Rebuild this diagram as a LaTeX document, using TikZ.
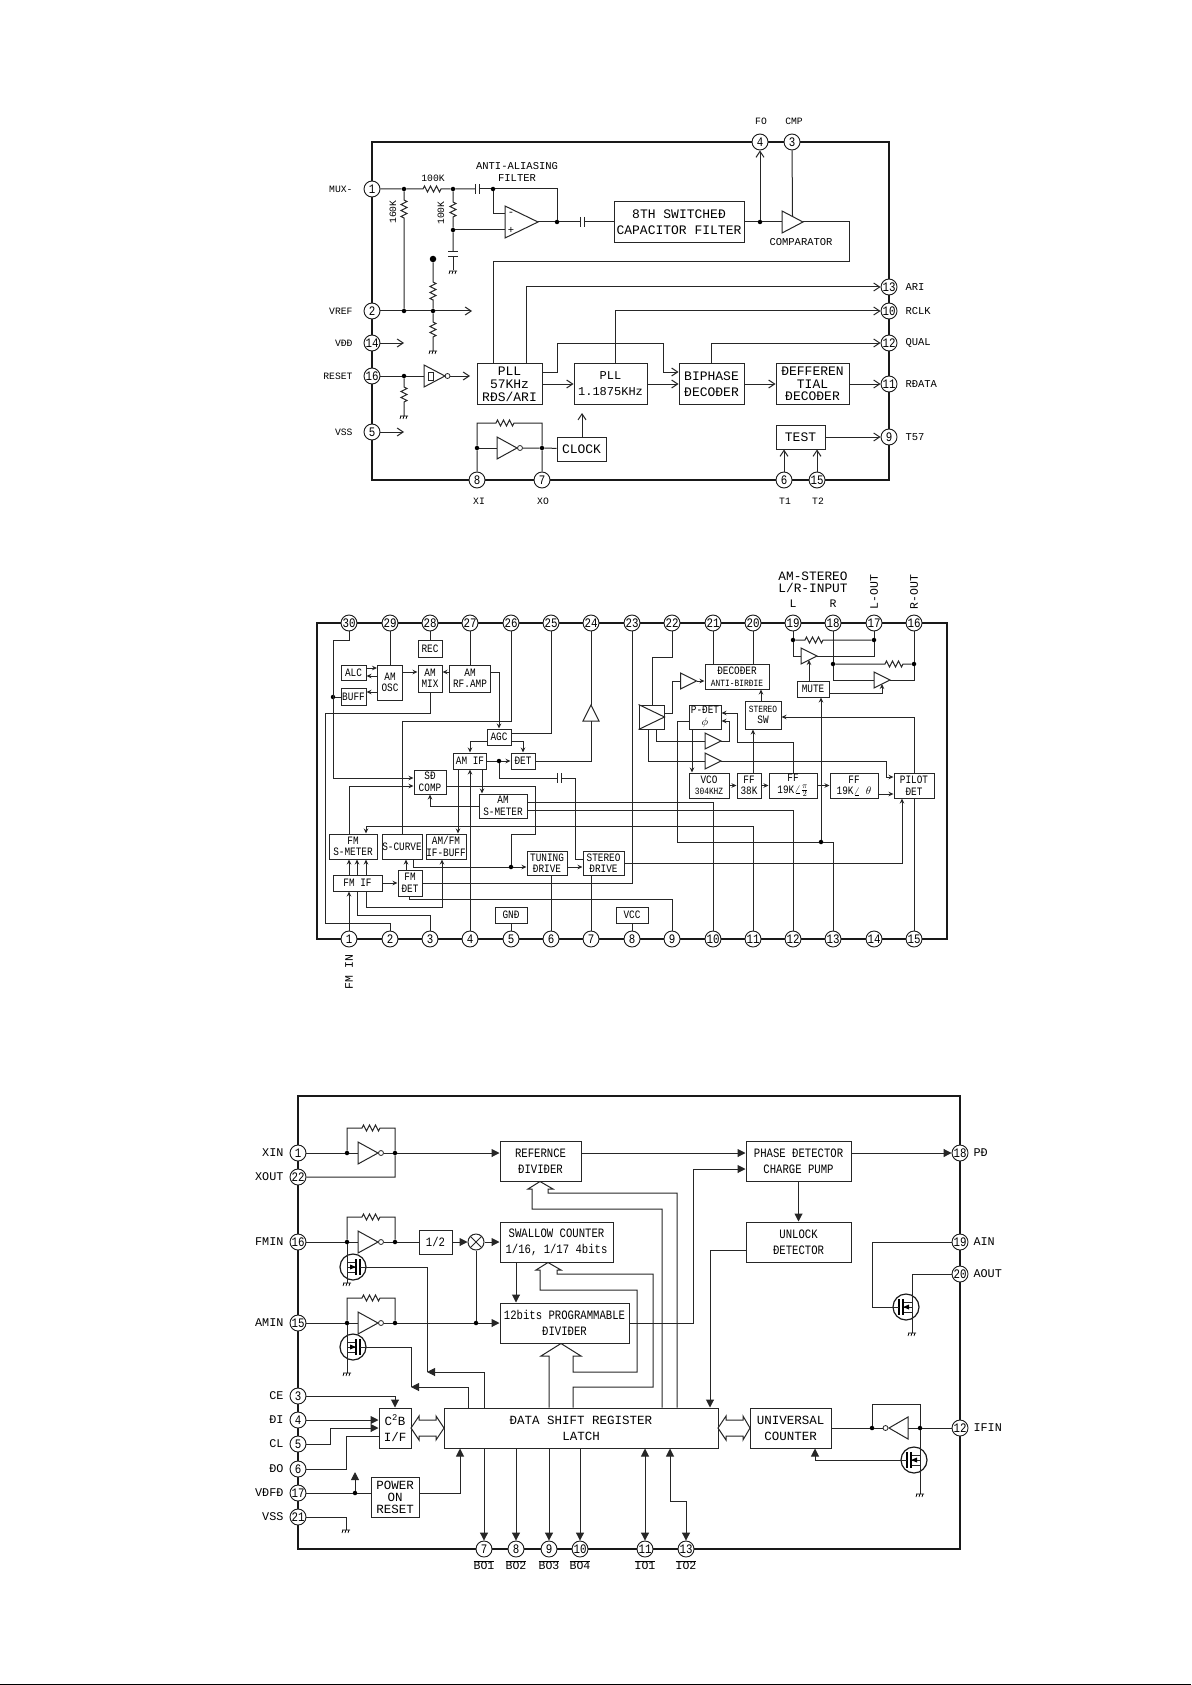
\documentclass[tikz,border=0pt]{standalone}
\usepackage{fontspec}
\usetikzlibrary{arrows.meta,decorations.pathmorphing}
\newfontfamily\cadfont[FakeStretch=0.83]{Liberation Mono}
\newfontfamily\cadwide{Liberation Mono}
\tikzset{
  frame/.style={line width=1.2pt,black!90},
  wire/.style={line width=1pt,black!85},
  zz/.style={decoration={zigzag,amplitude=3pt,segment length=6pt}},
  box/.style 2 args={draw=black!85,line width=1pt,fill=white,minimum width=#1pt,minimum height=#2pt,inner sep=0pt,align=center},
  pin/.style={draw=black!90,line width=0.9pt,circle,fill=white,minimum size=16pt,inner sep=0pt,font=\cadfont\fontsize{13}{13}\selectfont},
  dot/.style={fill=black,circle,minimum size=4.5pt,inner sep=0pt},
  bubble/.style={draw=black!85,line width=0.8pt,circle,fill=white,minimum size=5pt,inner sep=0pt},
  txtS/.style={font=\cadwide\fontsize{10.5}{12}\selectfont},
  txtP/.style={font=\cadwide\fontsize{9.7}{12}\selectfont},
  txtB/.style={font=\cadfont\fontsize{11.3}{11.5}\selectfont},
  txtR/.style={font=\cadwide\fontsize{11.5}{12}\selectfont},
  txtL/.style={font=\cadwide\fontsize{12.8}{12}\selectfont},
  txtC/.style={font=\cadfont\fontsize{12.8}{16}\selectfont},
  txtW/.style={font=\cadwide\fontsize{11.8}{16}\selectfont},
  gnd/.pic={\draw[line width=0.7pt] (-4,0) -- (4,0) (-4,3) -- (-3,0) (-1,3) -- (0,0) (2,3) -- (3,0);},
  tri/.pic={\draw[wire,fill=white] (-8,-8) -- (8,0) -- (-8,8) -- cycle;
    \coordinate (-in) at (-8,0); \coordinate (-out) at (8,0);
    \coordinate (-n) at (0,-4); \coordinate (-s) at (0,4);},
  mos/.pic={\draw[line width=1.2pt,black!90] (0,0) circle (13);
    \draw[wire] (-6,-5) -- (3,-5) (-6,5) -- (3,5) (-6,0) -- (3,0);
    \draw[line width=1.1pt] (3,-8) -- (3,8) (7,-8) -- (7,8);
    \fill (3,0) -- (-3,-2.5) -- (-3,2.5) -- cycle;
    \coordinate (-g) at (7,0);},
}
\begin{document}
\begin{tikzpicture}[x=1pt,y=-1pt,every node/.style={font=\cadwide\fontsize{13}{16}\selectfont}]
\useasboundingbox (0,0) rectangle (1191,1685);
\fill[black] (0,1683.6) rectangle (1191,1685);
%
% ---- RDS decoder
\begin{scope}[>={Straight Barb[length=6pt,width=8pt]}]
\draw[frame] (372,142) rectangle (889,480);
%
\node[pin] (a1) at (372,189) {1};
\node[pin] (a2) at (372,311) {2};
\node[pin] (a14) at (372,343) {14};
\node[pin] (a16) at (372,376) {16};
\node[pin] (a5) at (372,432) {5};
\node[pin] (a4) at (760,142) {4};
\node[pin] (a3) at (792,142) {3};
\node[pin] (a13) at (889,287) {13};
\node[pin] (a10) at (889,311) {10};
\node[pin] (a12) at (889,343) {12};
\node[pin] (a11) at (889,384) {11};
\node[pin] (a9) at (889,437) {9};
\node[pin] (a8) at (477,480) {8};
\node[pin] (a7) at (542,480) {7};
\node[pin] (a6) at (784,480) {6};
\node[pin] (a15) at (817,480) {15};
%
\node[txtP,anchor=east] (lmux) at (356,189) {MUX-};
\node[txtP,anchor=east] (lvref) at (356,311) {VREF};
\node[txtP,anchor=east] (lvdd) at (356,343) {VÐÐ};
\node[txtP,anchor=east] (lrst) at (356,376) {RESET};
\node[txtP,anchor=east] (lvss) at (356,432) {VSS};
\node[txtP] (lfo) at (761,121) {FO};
\node[txtP] (lcmp) at (794,121) {CMP};
\node[txtS,anchor=west] (lari) at (902,287) {ARI};
\node[txtS,anchor=west] (lrclk) at (902,311) {RCLK};
\node[txtS,anchor=west] (lqual) at (902,343) {QUAL};
\node[txtS,anchor=west] (lrdata) at (902,384) {RÐATA};
\node[txtS,anchor=west] (lt57) at (902,437) {T57};
\node[txtP] (lxi) at (479,501) {XI};
\node[txtP] (lxo) at (543,501) {XO};
\node[txtP] (lt1) at (785,501) {T1};
\node[txtP] (lt2) at (818,501) {T2};
\node[txtS,align=center] (lanti) at (517,172) {ANTI-ALIASING\\FILTER};
\node[txtS] (lcomp) at (801,242) {COMPARATOR};
\node[txtP] (lr1) at (433,178) {100K};
\node[txtP,rotate=90] (lr2) at (393,212) {160K};
\node[txtP,rotate=90] (lr3) at (441,213) {100K};
%
\node[box={130}{41}] (a8th) at (679,222) {8TH SWITCHEÐ\\CAPACITOR FILTER};
\node[box={65}{41},font=\cadwide\fontsize{13}{13}\selectfont] (apll57) at (509.5,384) {PLL\\57KHz\\RÐS/ARI};
\node[box={73}{41},font=\cadwide\fontsize{12}{16}\selectfont] (apll118) at (610.5,384) {PLL\\1.1875KHz};
\node[box={65}{41}] (abiph) at (711.5,384) {BIPHASE\\ÐECOÐER};
\node[box={73}{41},font=\cadwide\fontsize{13}{12.5}\selectfont] (adiff) at (812.5,384) {ÐEFFEREN\\TIAL\\ÐECOÐER};
\node[box={49}{24}] (aclk) at (581.5,449) {CLOCK};
\node[box={49}{24}] (atest) at (800.5,437) {TEST};
%
\node[dot] (aj1) at (404,189) {};
\node[dot] (aj2) at (453,189) {};
\node[dot] (aj3) at (493,189) {};
\node[dot] (aj4) at (557,222) {};
\node[dot] (aj5) at (453,230) {};
\node[dot] (aj6) at (760,222) {};
\node[dot] (aj7) at (404,311) {};
\node[dot] (aj8) at (433,311) {};
\node[dot,minimum size=6.5pt] (aj9) at (433,259) {};
\node[dot] (aj10) at (404,376) {};
\node[dot] (aj11) at (477,448) {};
\node[dot] (aj12) at (542,448) {};
\node[bubble] (abub1) at (447.5,376) {};
\node[bubble] (abub2) at (520,448) {};
\coordinate (avref) at (472,311);
\coordinate (avdd) at (404,343);
\coordinate (avss) at (404,432);
\coordinate (arst) at (470,376);
\coordinate (aclkup) at (582,413);
%
\pic[xscale=2.06,yscale=2] (aop) at (521.5,222) {tri};
\pic[xscale=1.31,yscale=1.375] (acmp) at (792.5,222) {tri};
\pic[xscale=1.31,yscale=1.375] (asch) at (434.5,376) {tri};
\pic[xscale=1.25,yscale=1.375] (ainv) at (507,448) {tri};
\node[txtS] (aminus) at (511,214) {-};
\node[txtS] (aplus) at (511,230) {+};
\draw[wire] (428,372) rectangle (433,380);
%
\draw[wire] (a1) -- (aj1) -- (423,189) decorate[zz]{-- (443,189)} -- (aj2) -- (475,189);
\draw[wire] (475,184) -- (475,194) (479,184) -- (479,194);
\draw[wire] (479,189) -- (aj3) -- (557,189) -- (aj4);
\draw[wire] (aj1) -- (404,200) decorate[zz]{-- (404,220)} -- (aj7);
\draw[wire] (aj2) -- (453,202) decorate[zz]{-- (453,218)} -- (aj5) -- (453,252);
\draw[wire] (448,252) -- (458,252) (448,257) -- (458,257) (453,257) -- (453,270);
\pic at (453,271) {gnd};
\draw[wire] (aj5) -- (aop-in |- aj5);
\draw[wire] (aj3) -- (493,214) -- (505,214);
\draw[wire] (aop-out) -- (aj4) -- (580,222);
\draw[wire] (580,217) -- (580,227) (584,217) -- (584,227);
\draw[wire] (584,222) -- (a8th);
\draw[wire] (a8th) -- (aj6) -- (acmp-in);
\draw[wire,->] (aj6) -- (a4);
\draw[wire] (a3) -- (acmp-n);
\draw[wire] (acmp-out) -- (849,222) -- (849,262) -- (493,262) -- (493,0 |- apll57.north);
\draw[wire,->] (526,0 |- apll57.north) |- (a13);
\draw[wire,->] (615,0 |- apll118.north) |- (a10);
\draw[wire,->] (711,0 |- abiph.north) |- (a12);
\draw[wire,->] (apll57.east |- 0,372) -- (557,372) -- (557,343) -- (663,343) -- (663,372) -- (abiph.west |- 0,372);
\draw[wire,->] (apll57) -- (apll118);
\draw[wire,->] (apll118) -- (abiph);
\draw[wire,->] (abiph) -- (adiff);
\draw[wire,->] (adiff) -- (a11);
%
\draw[wire,->] (a2) -- (aj7) -- (aj8) -- (avref);
\draw[wire,->] (a14) -- (avdd);
\draw[wire,->] (a5) -- (avss);
\draw[wire] (aj9) -- (433,282) decorate[zz]{-- (433,300)} -- (aj8) -- (433,322) decorate[zz]{-- (433,338)} -- (433,351);
\pic at (433,351) {gnd};
\draw[wire] (a16) -- (aj10) -- (asch-in);
\draw[wire,->] (abub1) -- (arst);
\draw[wire] (aj10) -- (404,387) decorate[zz]{-- (404,403)} -- (404,416);
\pic at (404,416) {gnd};
%
\draw[wire] (a8) -- (aj11) -- (477,423) -- (496,423) decorate[zz]{-- (515,423)} -- (542,423) -- (aj12) -- (a7);
\draw[wire] (aj11) -- (ainv-in);
\draw[wire] (abub2) -- (aj12) -- (aclk);
\draw[wire,->] (582,0 |- aclk.north) -- (aclkup);
\draw[wire,->] (atest) -- (a9);
\draw[wire,->] (a6) -- (784,0 |- atest.south);
\draw[wire,->] (a15) -- (817,0 |- atest.south);
\end{scope}
%
% ---- AM/FM IF
\begin{scope}[>={Stealth[length=5pt,width=4.5pt]},every node/.append style={txtB}]
\draw[frame] (317,623) rectangle (947,939);
%
\node[pin] (b30) at (349,623) {30};
\node[pin] (b29) at (390,623) {29};
\node[pin] (b28) at (430,623) {28};
\node[pin] (b27) at (470,623) {27};
\node[pin] (b26) at (511,623) {26};
\node[pin] (b25) at (551,623) {25};
\node[pin] (b24) at (591,623) {24};
\node[pin] (b23) at (632,623) {23};
\node[pin] (b22) at (672,623) {22};
\node[pin] (b21) at (713,623) {21};
\node[pin] (b20) at (753,623) {20};
\node[pin] (b19) at (793,623) {19};
\node[pin] (b18) at (833,623) {18};
\node[pin] (b17) at (874,623) {17};
\node[pin] (b16) at (914,623) {16};
\node[pin] (b1) at (349,939) {1};
\node[pin] (b2) at (390,939) {2};
\node[pin] (b3) at (430,939) {3};
\node[pin] (b4) at (470,939) {4};
\node[pin] (b5) at (511,939) {5};
\node[pin] (b6) at (551,939) {6};
\node[pin] (b7) at (591,939) {7};
\node[pin] (b8) at (632,939) {8};
\node[pin] (b9) at (672,939) {9};
\node[pin] (b10) at (713,939) {10};
\node[pin] (b11) at (753,939) {11};
\node[pin] (b12) at (793,939) {12};
\node[pin] (b13) at (833,939) {13};
\node[pin] (b14) at (874,939) {14};
\node[pin] (b15) at (914,939) {15};
%
\node[box={24}{17}] (brec) at (430,648.5) {REC};
\node[box={25}{15}] (balc) at (353.5,672.5) {ALC};
\node[box={25}{35}] (bosc) at (390,682.5) {AM\\OSC};
\node[box={24}{27}] (bmix) at (430,678.5) {AM\\MIX};
\node[box={41}{27}] (brf) at (470,678.5) {AM\\RF.AMP};
\node[box={25}{17}] (bbuff) at (353.5,697) {BUFF};
\node[box={24}{16}] (bagc) at (499,737) {AGC};
\node[box={33}{16}] (bif) at (470,761) {AM IF};
\node[box={24}{16}] (bdet) at (523,761) {ÐET};
\node[box={32}{24}] (bsd) at (430,782) {SÐ\\COMP};
\node[box={48}{24}] (bsm) at (503,806) {AM\\S-METER};
\node[box={48}{25}] (bfsm) at (353,846.5) {FM\\S-METER};
\node[box={40}{25}] (bscv) at (402,846.5) {S-CURVE};
\node[box={40}{25}] (bbuf2) at (446,846.5) {AM/FM\\IF-BUFF};
\node[box={40}{24}] (btun) at (547,863) {TUNING\\ÐRIVE};
\node[box={41}{24}] (bste) at (603.5,863) {STEREO\\ÐRIVE};
\node[box={49}{16}] (bfif) at (357.5,883) {FM IF};
\node[box={24}{26}] (bfdt) at (410,883) {FM\\ÐET};
\node[box={32}{16}] (bgnd) at (511,915) {GNÐ};
\node[box={32}{16}] (bvcc) at (632,915) {VCC};
\node[box={64}{25},font=\cadfont\fontsize{9.5}{11.5}\selectfont] (bdec) at (737,676.5) {\fontsize{11.3}{11.5}\selectfont ÐECOÐER\\ANTI-BIRÐIE};
\node[box={25}{24}] (bamp) at (651.5,717) {};
\node[box={32}{24}] (bpdt) at (705,717) {P-ÐET\\$\phi$};
\node[box={36}{28}] (bsw) at (763,715) {\fontsize{9.5}{11.5}\selectfont STEREO\\SW};
\node[box={32}{16}] (bmut) at (813,689) {MUTE};
\node[box={40}{25}] (bvco) at (709,785.5) {VCO\\\fontsize{9.5}{9.5}\selectfont 304KHZ};
\node[box={24}{25}] (bf38) at (749,785.5) {FF\\38K};
\node[box={48}{25}] (bf90) at (793,785.5) {FF\\19K$\angle\frac{\pi}{2}$};
\node[box={48}{25}] (bf00) at (854,785.5) {FF\\19K$\angle\ \theta$};
\node[box={40}{25}] (bpil) at (914,785.5) {PILOT\\ÐET};
%
\node[txtL,align=center] (lamst) at (813,582) {AM-STEREO\\L/R-INPUT};
\node[txtR] (ll) at (793,604) {L};
\node[txtR] (lr) at (833,604) {R};
\node[txtR,rotate=90] (llout) at (874,592) {L-OUT};
\node[txtR,rotate=90] (lrout) at (914,592) {R-OUT};
\node[txtR,rotate=90] (lfmin) at (349,972) {FM IN};
%
\pic[rotate=90] (bt24) at (591,713) {tri};
\pic (bt1) at (688.5,681) {tri};
\pic (bt2) at (713,741) {tri};
\pic (bt3) at (713,761) {tri};
\pic (bt4) at (809,656) {tri};
\pic (bt5) at (882,680) {tri};
\draw[wire] (bamp.north west) -- (bamp.east) -- (bamp.south west);
%
\node[dot] (bj1) at (333,697) {};
\node[dot] (bj2) at (499,761) {};
\node[dot] (bj3) at (511,867) {};
\node[dot] (bj4) at (821,842) {};
\node[dot] (bj5) at (793,640) {};
\node[dot] (bj6) at (874,640) {};
\node[dot] (bj7) at (833,664) {};
\node[dot] (bj8) at (914,664) {};
%
\draw[wire,->] (b30) -- (349,640) -- (333,640) -- (333,778) -- (bsd.west |- 0,778);
\draw[wire] (bj1) -- (bbuff);
\draw[wire] (b29) -- (bosc);
\draw[wire] (b28) -- (brec);
\draw[wire] (b27) -- (brf);
\draw[wire] (b26) -- (511,721) -- (402,721) -- (bscv);
\draw[wire] (b25) -- (551,733) -- (bagc.east |- 0,733);
\draw[wire] (b24) -- (bt24-out);
\draw[wire] (bt24-in) -- (591,761) -- (bdet);
\draw[wire] (b23) -- (632,883) -- (bfdt);
\draw[wire,->] (balc.east |- 0,668) -- (bosc.west |- 0,668);
\draw[wire,->] (bosc.west |- 0,676) -- (balc.east |- 0,676);
\draw[wire,->] (bosc.west |- 0,692) -- (bbuff.east |- 0,692);
\draw[wire,->] (bosc.east |- 0,672) -- (bmix.west |- 0,672);
\draw[wire,->] (brf.west |- 0,672) -- (bmix.east |- 0,672);
\draw[wire,->] (brf.east |- 0,672) -- (499,672) -- (bagc);
\draw[wire] (bmix) -- (430,713) -- (325,713) -- (325,923) -- (390,923) -- (b2);
\draw[wire,->] (bagc.west |- 0,741) -- (470,741) -- (bif);
\draw[wire,->] (bagc.east |- 0,741) -- (523,741) -- (bdet);
\draw[wire,->] (bif) -- (bj2) -- (bdet);
\draw[wire] (bj2) -- (499,778) -- (557,778);
\draw[wire] (557,773) -- (557,783) (561,773) -- (561,783);
\draw[wire] (561,778) -- (575,778) -- (575,859) -- (bste.west |- 0,859);
\draw[wire,->] (458,0 |- bif.south) -- (458,0 |- bbuf2.north);
\draw[wire,->] (b4) -- (470,0 |- bif.south);
\draw[wire,->] (482,0 |- bif.south) -- (482,0 |- bsm.north);
\draw[wire,->] (349,0 |- bfsm.north) -- (349,786) -- (bsd.west |- 0,786);
\draw[wire] (bsd.east |- 0,786) -- (535,786) -- (535,834) -- (511,834) -- (bj3);
\draw[wire,->] (413,0 |- bscv.south) -- (413,867) -- (bj3) -- (btun.west |- 0,867);
\draw[wire,->] (btun.east |- 0,867) -- (bste.west |- 0,867);
\draw[wire,->] (bsm.west |- 0,806) -- (430,806) -- (bsd);
\draw[wire] (bsm.east |- 0,802) -- (713,802) -- (b10);
\draw[wire] (bsm.east |- 0,810) -- (793,810) -- (b12);
\draw[wire,->] (b11) -- (753,826) -- (366,826) -- (366,0 |- bfsm.north);
\draw[wire] (b13) -- (833,842) -- (bj4) -- (677,842) -- (677,721) -- (bpdt.west |- 0,721);
\draw[wire,->] (bj4) -- (821,0 |- bmut.south);
\draw[wire,->] (bste) -- (902,863) -- (902,0 |- bpil.south);
\draw[wire] (409,0 |- bfdt.south) -- (409,899) -- (672,899) -- (b9);
\draw[wire,->] (b1) -- (349,0 |- bfif.south);
\draw[wire] (357,0 |- bfif.south) -- (357,915) -- (430,915) -- (b3);
\draw[wire,->] (366,0 |- bfif.south) -- (366,907) -- (442,907) -- (442,0 |- bbuf2.south);
\draw[wire,->] (349,0 |- bfif.north) -- (349,0 |- bfsm.south);
\draw[wire,->] (357,0 |- bfif.north) -- (357,0 |- bfsm.south);
\draw[wire,->] (366,0 |- bfif.north) -- (366,0 |- bfsm.south);
\draw[wire,->] (bfif) -- (bfdt);
\draw[wire,->] (406,0 |- bfdt.north) -- (406,0 |- bscv.south);
\draw[wire] (551,0 |- btun.south) -- (b6);
\draw[wire] (591,0 |- bste.south) -- (b7);
\draw[wire] (bgnd) -- (b5);
\draw[wire] (bvcc) -- (b8);
%
\draw[wire] (b22) -- (672,657) -- (652,657) -- (652,0 |- bamp.north);
\draw[wire] (b21) -- (713,0 |- bdec.north);
\draw[wire] (b20) -- (753,0 |- bdec.north);
\draw[wire] (bamp.east |- 0,713) -- (672,713) -- (672,681) -- (bt1-in);
\draw[wire,->] (bt1-out) -- (bdec.west |- 0,681);
\draw[wire,->] (761,0 |- bsw.north) -- (761,0 |- bdec.south);
\draw[wire,->] (753,0 |- bf38.north) -- (753,0 |- bsw.south);
\draw[wire,->] (793,0 |- bf90.north) -- (793,742) -- (737,742) -- (737,713) -- (bpdt.east |- 0,713);
\draw[wire,->] (bt2-out) -- (729,741) -- (729,721) -- (bpdt.east |- 0,721);
\draw[wire] (656,0 |- bamp.south) -- (656,741) -- (bt2-in);
\draw[wire] (648,0 |- bamp.south) -- (648,761) -- (bt3-in);
\draw[wire,->] (bt3-out) -- (886,761) -- (886,777) -- (bpil.west |- 0,777);
\draw[wire,->] (692,0 |- bpdt.south) -- (692,0 |- bvco.north);
\draw[wire,->] (bvco) -- (bf38);
\draw[wire,->] (bf38) -- (bf90);
\draw[wire,->] (bf90) -- (bf00);
\draw[wire,->] (bf00.east |- 0,794) -- (bpil.west |- 0,794);
\draw[wire] (b15) -- (914,0 |- bpil.south);
\draw[wire,->] (914,0 |- bpil.north) -- (914,717) -- (bsw.east |- 0,717);
\draw[wire,->] (809,0 |- bmut.north) -- (bt4-s);
\draw[wire,->] (bmut.east |- 0,693) -- (882,693) -- (bt5-s);
\draw[wire] (b19) -- (bj5) -- (793,656) -- (bt4-in);
\draw[wire] (bj5) -- (805,640) decorate[zz]{-- (823,640)} -- (bj6);
\draw[wire] (bt4-out) -- (874,656) -- (bj6) -- (b17);
\draw[wire] (b18) -- (bj7) -- (833,680) -- (bt5-in);
\draw[wire] (bj7) -- (885,664) decorate[zz]{-- (903,664)} -- (bj8);
\draw[wire] (b16) -- (bj8) -- (914,680) -- (bt5-out);
\end{scope}
%
% ---- PLL
\begin{scope}[>={Triangle[length=8pt,width=8pt]},every node/.append style={txtC}]
\draw[frame] (298,1096) rectangle (960,1549);
%
\node[pin] (c1) at (298,1153) {1};
\node[pin] (c22) at (298,1177) {22};
\node[pin] (c16) at (298,1242) {16};
\node[pin] (c15) at (298,1323) {15};
\node[pin] (c3) at (298,1396) {3};
\node[pin] (c4) at (298,1420) {4};
\node[pin] (c5) at (298,1444) {5};
\node[pin] (c6) at (298,1469) {6};
\node[pin] (c17) at (298,1493) {17};
\node[pin] (c21) at (298,1517) {21};
\node[pin] (c18) at (960,1153) {18};
\node[pin] (c19) at (960,1242) {19};
\node[pin] (c20) at (960,1274) {20};
\node[pin] (c12) at (960,1428) {12};
\node[pin] (c7) at (484,1549) {7};
\node[pin] (c8) at (516,1549) {8};
\node[pin] (c9) at (549,1549) {9};
\node[pin] (c10) at (580,1549) {10};
\node[pin] (c11) at (645,1549) {11};
\node[pin] (c13) at (686,1549) {13};
%
\node[txtW,anchor=east] (lxin) at (287,1153) {XIN};
\node[txtW,anchor=east] (lxout) at (287,1177) {XOUT};
\node[txtW,anchor=east] (lfmn) at (287,1242) {FMIN};
\node[txtW,anchor=east] (lamn) at (287,1323) {AMIN};
\node[txtW,anchor=east] (lce) at (287,1396) {CE};
\node[txtW,anchor=east] (ldi) at (287,1420) {ÐI};
\node[txtW,anchor=east] (lcl) at (287,1444) {CL};
\node[txtW,anchor=east] (ldo) at (287,1469) {ÐO};
\node[txtW,anchor=east] (lvfd) at (287,1493) {VÐFÐ};
\node[txtW,anchor=east] (lvsc) at (287,1517) {VSS};
\node[txtW,anchor=west] (lpd) at (970,1153) {PÐ};
\node[txtW,anchor=west] (lain) at (970,1242) {AIN};
\node[txtW,anchor=west] (laout) at (970,1274) {AOUT};
\node[txtW,anchor=west] (lifn) at (970,1428) {IFIN};
\node[txtR] (lbo1) at (484,1565) {$\overline{\mbox{BO1}}$};
\node[txtR] (lbo2) at (516,1565) {$\overline{\mbox{BO2}}$};
\node[txtR] (lbo3) at (549,1565) {$\overline{\mbox{BO3}}$};
\node[txtR] (lbo4) at (580,1565) {$\overline{\mbox{BO4}}$};
\node[txtR] (lio1) at (645,1565) {$\overline{\mbox{IO1}}$};
\node[txtR] (lio2) at (686,1565) {$\overline{\mbox{IO2}}$};
%
\node[box={81}{40}] (cref) at (540.5,1161) {REFERNCE\\ÐIVIÐER};
\node[box={113}{40}] (csw) at (556.5,1242) {SWALLOW COUNTER\\1/16, 1/17 4bits};
\node[box={129}{40}] (cprg) at (564.5,1323) {12bits PROGRAMMABLE\\ÐIVIÐER};
\node[box={33}{24}] (chalf) at (435.5,1242) {1/2};
\node[box={32}{40},font=\cadwide\fontsize{12.5}{16}\selectfont] (cc2b) at (395,1428) {C\textsuperscript{2}B\\I/F};
\node[box={274}{40},font=\cadwide\fontsize{12.5}{16}\selectfont] (cdat) at (581,1428) {ÐATA SHIFT REGISTER\\LATCH};
\node[box={48}{40},font=\cadwide\fontsize{12.5}{12}\selectfont] (cpor) at (395,1497) {POWER\\ON\\RESET};
\node[box={105}{40}] (cpha) at (798.5,1161) {PHASE ÐETECTOR\\CHARGE PUMP};
\node[box={105}{40}] (cunl) at (798.5,1242) {UNLOCK\\ÐETECTOR};
\node[box={81}{40},font=\cadwide\fontsize{12.5}{16}\selectfont] (cuni) at (790.5,1428) {UNIVERSAL\\COUNTER};
\node[draw=black!85,line width=1pt,circle,minimum size=16pt,inner sep=0pt,
  path picture={\draw[wire] (path picture bounding box.north west) -- (path picture bounding box.south east)
  (path picture bounding box.south west) -- (path picture bounding box.north east);}] (cmul) at (476,1242) {};
%
\node[dot] (cj1) at (347,1153) {};
\node[dot] (cj2) at (395,1153) {};
\node[dot] (cj3) at (347,1242) {};
\node[dot] (cj4) at (395,1242) {};
\node[dot] (cj5) at (347,1323) {};
\node[dot] (cj6) at (395,1323) {};
\node[dot] (cj7) at (476,1323) {};
\node[dot] (cj8) at (355,1493) {};
\node[dot] (cj9) at (872,1428) {};
\node[dot] (cj10) at (920,1428) {};
\node[bubble] (cbub1) at (381,1153) {};
\node[bubble] (cbub2) at (381,1242) {};
\node[bubble] (cbub3) at (381,1323) {};
\node[bubble] (cbub4) at (885.5,1428) {};
\coordinate (cvup) at (355,1472);
%
\pic[xscale=1.25,yscale=1.375] (cinv1) at (368,1153) {tri};
\pic[xscale=1.25,yscale=1.375] (cinv2) at (368,1242) {tri};
\pic[xscale=1.25,yscale=1.375] (cinv3) at (368,1323) {tri};
\pic[rotate=180,xscale=1.19,yscale=1.375] (cinv4) at (898.5,1428) {tri};
\pic (cm1) at (353,1267) {mos};
\pic (cm2) at (353,1347) {mos};
\pic[xscale=-1] (cm3) at (914,1460) {mos};
\pic[xscale=-1] (cm4) at (906,1307) {mos};
%
\draw[wire] (c1) -- (cj1) -- (cinv1-in);
\draw[wire,->] (cbub1) -- (cj2) -- (cref.west |- 0,1153);
\draw[wire] (cj1) -- (347,1128) -- (362,1128) decorate[zz]{-- (380,1128)} -- (395,1128) -- (cj2) -- (395,1177) -- (c22);
\draw[wire] (c16) -- (cj3) -- (cinv2-in);
\draw[wire] (cbub2) -- (cj4) -- (chalf);
\draw[wire,->] (chalf) -- (cmul);
\draw[wire,->] (cmul) -- (csw);
\draw[wire] (cj3) -- (347,1217) -- (362,1217) decorate[zz]{-- (380,1217)} -- (395,1217) -- (cj4);
\draw[wire] (cj3) -- (347,1283);
\pic at (347,1283) {gnd};
\draw[wire] (cmul) -- (cj7);
\draw[wire] (c15) -- (cj5) -- (cinv3-in);
\draw[wire,->] (cbub3) -- (cj6) -- (cj7) -- (cprg);
\draw[wire] (cj5) -- (347,1298) -- (362,1298) decorate[zz]{-- (380,1298)} -- (395,1298) -- (cj6);
\draw[wire] (cj5) -- (347,1373);
\pic at (347,1373) {gnd};
\draw[wire] (cm1-g) -- (427,1267) -- (427,1372);
\draw[wire,->] (484,0 |- cdat.north) -- (484,1372) -- (427,1372);
\draw[wire] (cm2-g) -- (411,1347) -- (411,1387);
\draw[wire,->] (468,0 |- cdat.north) -- (468,1387) -- (411,1387);
%
\draw[wire] (662,0 |- cdat.north) -- (662,1209) -- (532,1209) -- (532,1189) -- (528,1189) -- (540,0 |- cref.south) -- (553,1189) -- (548,1189) -- (548,1193) -- (677,1193) -- (677,0 |- cdat.north);
\draw[wire] (549,0 |- cdat.north) -- (549,1356) -- (541,1356) -- (561,0 |- cprg.south) -- (581,1356) -- (573,1356) -- (573,1372) -- (637,1372) -- (637,1290) -- (540,1290) -- (540,1270) -- (536,1270) -- (548,0 |- csw.south) -- (561,1270) -- (557,1270) -- (557,1274) -- (653,1274) -- (653,1387) -- (573,1387) -- (573,0 |- cdat.north);
\draw[wire,->] (cprg) -- (693,1323) -- (693,1169) -- (cpha.west |- 0,1169);
\draw[wire,->] (cref.east |- 0,1153) -- (cpha.west |- 0,1153);
\draw[wire,->] (cpha.east |- 0,1153) -- (c18);
\draw[wire,->] (cpha) -- (cunl);
\draw[wire,->] (cunl.west |- 0,1250) -- (710,1250) -- (710,0 |- cdat.north);
\draw[wire,->] (516,0 |- csw.south) -- (516,0 |- cprg.north);
%
\draw[wire,->] (c3) -- (395,1396) -- (cc2b);
\draw[wire,->] (c4) -- (cc2b.west |- 0,1420);
\draw[wire,->] (c5) -- (330,1444) -- (330,1428) -- (cc2b.west |- 0,1428);
\draw[wire] (c6) -- (346,1469) -- (346,1436) -- (cc2b.west |- 0,1436);
\draw[wire] (c17) -- (cj8) -- (cpor.west |- 0,1493);
\draw[wire,->] (cj8) -- (cvup);
\draw[wire,->] (cpor.east |- 0,1493) -- (460,1493) -- (460,0 |- cdat.south);
\draw[wire] (c21) -- (346,1517) -- (346,1530);
\pic at (346,1530) {gnd};
\draw[wire,fill=white] (411,1428) -- (419,1416) -- (419,1420) -- (436,1420) -- (436,1416) -- (444,1428) -- (436,1440) -- (436,1436) -- (419,1436) -- (419,1440) -- cycle;
\draw[wire,fill=white] (718,1428) -- (726,1416) -- (726,1420) -- (743,1420) -- (743,1416) -- (750,1428) -- (743,1440) -- (743,1436) -- (726,1436) -- (726,1440) -- cycle;
%
\draw[wire,->] (484,0 |- cdat.south) -- (c7);
\draw[wire,->] (516,0 |- cdat.south) -- (c8);
\draw[wire,->] (549,0 |- cdat.south) -- (c9);
\draw[wire,->] (580,0 |- cdat.south) -- (c10);
\draw[wire,<->] (645,0 |- cdat.south) -- (c11);
\draw[wire,<->] (c13) -- (686,1501) -- (670,1501) -- (670,0 |- cdat.south);
%
\draw[wire] (cuni) -- (cj9) -- (cbub4);
\draw[wire] (cinv4-in) -- (cj10) -- (c12);
\draw[wire] (cj9) -- (872,1404) -- (920,1404) -- (cj10) -- (920,1494);
\pic at (920,1494) {gnd};
\draw[wire,->] (cm3-g) -- (815,1460) -- (815,0 |- cuni.south);
\draw[wire] (c19) -- (872,1242) -- (872,1307) -- (cm4-g);
\draw[wire] (c20) -- (912,1274) -- (912,1333);
\pic at (912,1333) {gnd};
\end{scope}
\end{tikzpicture}
\end{document}
